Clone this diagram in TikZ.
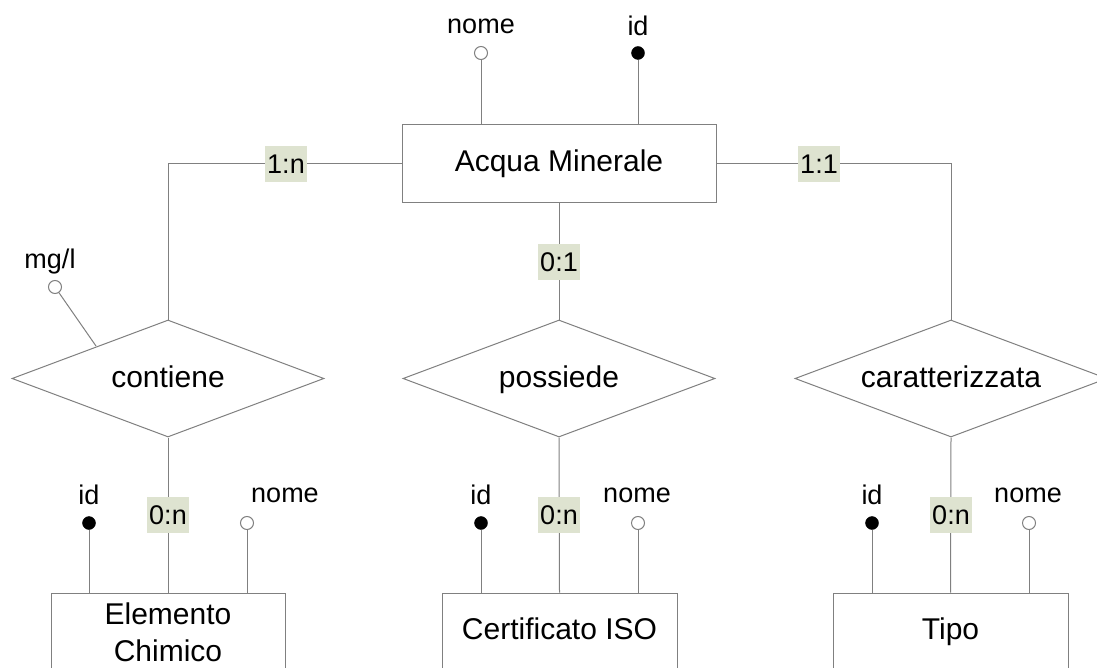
\documentclass[tikz,border=0pt]{standalone}
\usepackage{fontspec}
\setmainfont{Liberation Sans}
\usetikzlibrary{shapes.geometric}
\definecolor{lineg}{HTML}{808080}
\definecolor{cardbg}{HTML}{DEE3D0}
\tikzset{
  conn/.style={draw=lineg, line width=1pt},
  entity/.style={draw=lineg, line width=1pt, fill=white, rectangle, minimum width=314pt, minimum height=78pt, inner sep=0pt, font=\fontsize{30}{37}\selectfont, align=center, text height=21.5pt, text depth=6.5pt},
  relation/.style={draw=lineg, line width=1pt, fill=white, diamond, aspect=2.67, minimum width=312pt, minimum height=117pt, inner sep=0pt, font=\fontsize{30}{36}\selectfont, text height=23pt, text depth=6pt},
  card/.style={fill=cardbg, inner xsep=2pt, inner ysep=0pt, minimum height=36pt, font=\fontsize{27}{32}\selectfont},
  attrtxt/.style={inner sep=0pt, font=\fontsize{27}{32}\selectfont},
  attropen/.style={circle, draw=lineg, line width=1pt, fill=white, minimum size=13pt, inner sep=0pt},
  attrkey/.style={circle, draw=black, fill=black, minimum size=13pt, inner sep=0pt}
}
\begin{document}
\begin{tikzpicture}[x=1pt,y=-1pt]
\clip (0,0) rectangle (1097,668);
\fill[white] (0,0) rectangle (1097,668);

% entities
\node[entity] (acqua) at (559,164) {Acqua Minerale};
\node[entity, minimum width=234pt, text height={}, text depth={}] (elem) at (168,632) {Elemento\\Chimico};
\node[entity, minimum width=235pt] (cert) at (559.5,632) {Certificato ISO};
\node[entity, minimum width=235pt] (tipo) at (950.5,632) {Tipo};

% relations
\node[relation] (cont) at (168,378.5) {contiene};
\node[relation] (poss) at (559,378.5) {possiede};
\node[relation] (car) at (951,378.5) {caratterizzata};

% corner coordinates
\coordinate (cl) at (168,164);
\coordinate (cr) at (951,164);

% relationship connectors with cardinalities
\draw[conn] (acqua.west) -- (cl) -- (cont.north);
\node[card] (c1n) at (286,164) {1:n};
\draw[conn] (acqua.east) -- (cr) -- (car.north);
\node[card] (c11) at (819,164) {1:1};
\draw[conn] (acqua.south) -- (poss.north);
\node[card] (c01) at (559,262) {0:1};

\draw[conn] (cont.south) -- (elem.north);
\node[card] (c0n1) at (168,515) {0:n};
\draw[conn] (poss.south) -- (cert.north);
\node[card] (c0n2) at (559,515) {0:n};
\draw[conn] (car.south) -- (tipo.north);
\node[card] (c0n3) at (951,515) {0:n};

% attributes of Acqua Minerale
\node[attropen] (anome) at (481,53) {};
\node[attrtxt] (anomet) at (481,26) {nome};
\draw[conn] (anome.south) -- (anome.south |- acqua.north);
\node[attrkey] (aid) at (638,53) {};
\node[attrtxt] (aidt) at (638,26) {id};
\draw[conn] (aid.south) -- (aid.south |- acqua.north);

% attribute of contiene
\node[attropen] (mgl) at (55,287) {};
\node[attrtxt] (mglt) at (50,262) {mg/l};
\coordinate (mglend) at (96,346);
\draw[conn] (mgl) -- (mglend);

% attributes of Elemento Chimico
\node[attrkey] (eid) at (89,523) {};
\node[attrtxt] (eidt) at (89,495) {id};
\draw[conn] (eid.south) -- (eid.south |- elem.north);
\node[attropen] (enome) at (247,523) {};
\node[attrtxt] (enomet) at (285,495) {nome};
\draw[conn] (enome.south) -- (enome.south |- elem.north);

% attributes of Certificato ISO
\node[attrkey] (cid) at (481,523) {};
\node[attrtxt] (cidt) at (481,495) {id};
\draw[conn] (cid.south) -- (cid.south |- cert.north);
\node[attropen] (cnome) at (638,523) {};
\node[attrtxt] (cnomet) at (637,495) {nome};
\draw[conn] (cnome.south) -- (cnome.south |- cert.north);

% attributes of Tipo
\node[attrkey] (tid) at (872,523) {};
\node[attrtxt] (tidt) at (872,495) {id};
\draw[conn] (tid.south) -- (tid.south |- tipo.north);
\node[attropen] (tnome) at (1029,523) {};
\node[attrtxt] (tnomet) at (1028,495) {nome};
\draw[conn] (tnome.south) -- (tnome.south |- tipo.north);
\end{tikzpicture}
\end{document}
